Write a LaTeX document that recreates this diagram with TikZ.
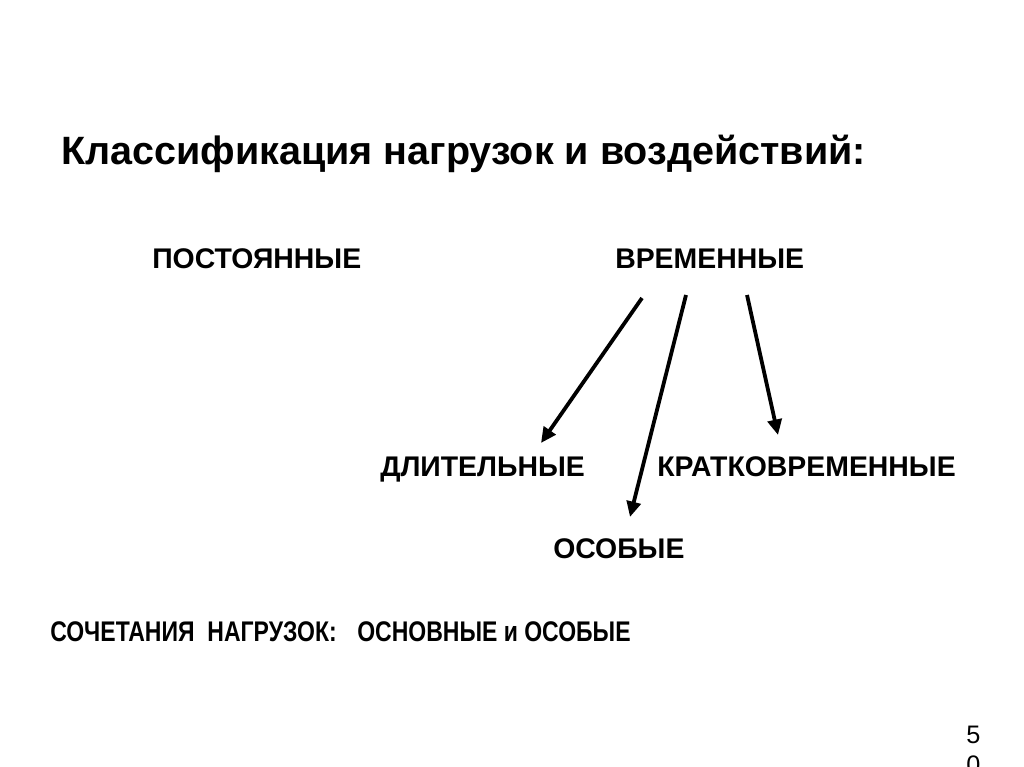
\documentclass[tikz,border=0pt]{standalone}
\usepackage{fontspec}
\setmainfont{Liberation Sans}
\newfontfamily\narrowfont[FakeStretch=0.81]{Liberation Sans}
\usetikzlibrary{arrows.meta}
\begin{document}
\begin{tikzpicture}[x=0.025cm,y=-0.025cm,every node/.style={inner sep=0,anchor=base west,font=\bfseries\fontsize{20.2}{24}\selectfont},
	arr/.style={line width=2.7pt,-{Triangle[length=11pt,width=10pt]}}]
				\useasboundingbox[fill=white] (0,0) rectangle (1024,767);
				\node (title) at (61,165){\fontsize{28.1}{32}\selectfont Классификация нагрузок и воздействий:};
				\node (post) at (152,269){ПОСТОЯННЫЕ};
				\node (vrem) at (615,269){ВРЕМЕННЫЕ};
				\node (dlit) at (380,476){ДЛИТЕЛЬНЫЕ};
				\node (krat) at (657,476){КРАТКОВРЕМЕННЫЕ};
				\node (osob) at (553,558){ОСОБЫЕ};
				\node (soch) at (50,641){\narrowfont СОЧЕТАНИЯ\ \ НАГРУЗОК:};
				\node (osn) at (357,641){\narrowfont ОСНОВНЫЕ и ОСОБЫЕ};
				\node[font=\fontsize{18}{21.5}\selectfont,align=left,anchor=north west] (page) at (966,726){5\\0};
				% arrow ends
				\coordinate (v1) at (642,298);
				\coordinate (v2) at (686,295);
				\coordinate (v3) at (747,295);
				\coordinate (d1) at (541,443);
				\coordinate (o1) at (630,517);
				\coordinate (k1) at (778,435);
				\draw[arr] (v1)--(d1);
				\draw[arr] (v2)--(o1);
				\draw[arr] (v3)--(k1);
\end{tikzpicture}
\end{document}
